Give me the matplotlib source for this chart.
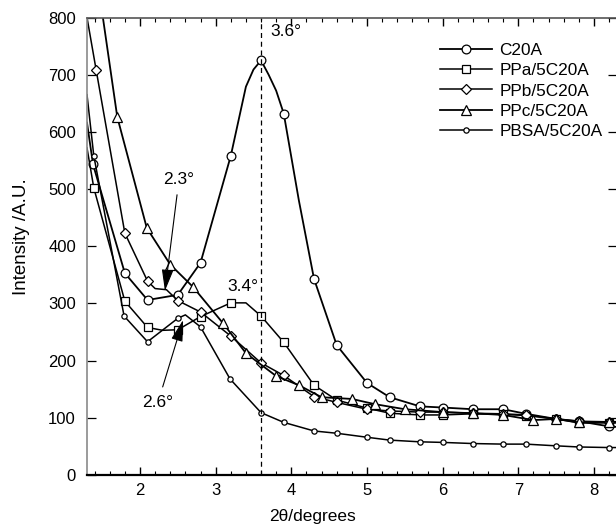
import matplotlib
matplotlib.use("Agg")
import matplotlib.pyplot as plt
from matplotlib.ticker import MultipleLocator

plt.rcParams['font.family'] = ['Liberation Sans', 'DejaVu Sans']

# data (2theta in degrees, intensity in A.U.)
# first/last entries of each series are where the curve meets the frame
c20a_x = [1.3, 1.38, 1.8, 2.1, 2.5, 2.8, 3.2, 3.4, 3.5, 3.6, 3.7, 3.8, 3.9, 4.1, 4.3, 4.6,
          5.0, 5.3, 5.7, 6.0, 6.4, 6.8, 7.1, 7.5, 7.8, 8.2, 8.3]
c20a_y = [616, 543, 353, 306, 315, 371, 558, 679, 709, 725, 700, 672, 632, 480, 343, 227,
          161, 136, 120, 118, 115, 115, 107, 98, 94, 85, 84]
c20a_marks = [1, 2, 3, 4, 5, 6, 9, 12, 14, 15, 16, 17, 18, 19, 20, 21, 22, 23, 24, 25]

ppa_x = [1.3, 1.39, 1.8, 2.1, 2.3, 2.5, 2.8, 3.2, 3.4, 3.6, 3.9, 4.3, 4.6, 5.0,
         5.3, 5.7, 6.0, 6.4, 6.8, 7.1, 7.5, 7.8, 8.2, 8.3]
ppa_y = [572, 502, 304, 258, 253, 254, 277, 301, 301, 278, 232, 157, 131, 117,
         108, 105, 105, 107, 106, 104, 98, 91, 91, 91]
ppa_marks = [1, 2, 3, 5, 6, 7, 9, 10, 11, 12, 13, 14, 15, 16, 17, 18, 19, 20, 21, 22]

ppb_x = [1.3, 1.42, 1.8, 2.1, 2.2, 2.35, 2.5, 2.8, 3.2, 3.6, 3.9, 4.3, 4.6, 5.0,
         5.3, 5.7, 6.0, 6.4, 6.8, 7.1, 7.5, 7.8, 8.2, 8.3]
ppb_y = [800, 709, 423, 339, 326, 324, 305, 285, 243, 196, 174, 137, 127, 115,
         112, 110, 110, 108, 107, 105, 98, 94, 93, 93]
ppb_marks = [1, 2, 3, 6, 7, 8, 9, 10, 11, 12, 13, 14, 15, 16, 17, 18, 19, 20, 21, 22]

ppc_x = [1.51, 1.7, 2.09, 2.4, 2.7, 3.1, 3.4, 3.8, 4.1, 4.4, 4.8, 5.1, 5.5,
         6.0, 6.4, 6.8, 7.2, 7.5, 7.8, 8.2, 8.3]
ppc_y = [800, 626, 432, 368, 329, 265, 213, 173, 157, 136, 133, 124, 115,
         110, 108, 105, 96, 98, 92, 93, 93]
ppc_marks = list(range(1, 20))

pbsa_x = [1.3, 1.39, 1.79, 2.1, 2.5, 2.6, 2.8, 3.19, 3.6, 3.9, 4.3, 4.6, 5.0,
          5.3, 5.7, 6.0, 6.4, 6.8, 7.1, 7.5, 7.8, 8.2, 8.3]
pbsa_y = [665, 558, 278, 233, 274, 280, 259, 168, 109, 92, 77, 73, 66,
          61, 58, 57, 55, 54, 54, 51, 49, 48, 48]
pbsa_marks = [1, 2, 3, 4, 6, 7, 8, 9, 10, 11, 12, 13, 14, 15, 16, 17, 18, 19, 20, 21]

fig = plt.figure(figsize=(6.16, 5.25), dpi=100)
ax = fig.add_axes([87 / 616, 50 / 525, (616.7 - 87) / 616, (475 - 17.5) / 525])

series = [
    (c20a_x, c20a_y, c20a_marks, 'o', 6.3, 1.3, 'C20A'),
    (ppa_x, ppa_y, ppa_marks, 's', 6.3, 1.1, 'PPa/5C20A'),
    (ppb_x, ppb_y, ppb_marks, 'D', 5.0, 1.1, 'PPb/5C20A'),
    (ppc_x, ppc_y, ppc_marks, '^', 6.8, 1.3, 'PPc/5C20A'),
    (pbsa_x, pbsa_y, pbsa_marks, 'o', 3.8, 1.1, 'PBSA/5C20A'),
]
for xs, ys, marks, m, ms, lw, lab in series:
    ax.plot(xs, ys, color='k', lw=lw, marker=m, markersize=ms, markevery=marks,
            markerfacecolor='white', markeredgecolor='k', markeredgewidth=0.9,
            label=lab)

# peak position marker
ax.axvline(3.6, color='k', lw=0.9, ls=(0, (4, 3)))

ax.text(3.72, 775, '3.6°', fontsize=12.5, va='center', ha='left')
ax.text(2.30, 516, '2.3°', fontsize=12.5, va='center', ha='left')
ax.text(3.15, 329, '3.4°', fontsize=12.5, va='center', ha='left')
ax.text(2.03, 126, '2.6°', fontsize=12.5, va='center', ha='left')

arrow = dict(arrowstyle='-|>,head_length=1.1,head_width=0.3', color='k', lw=0.8,
             mutation_scale=12, shrinkA=0, shrinkB=0)
ax.annotate('', xy=(2.33, 322), xytext=(2.49, 490), arrowprops=arrow)
ax.annotate('', xy=(2.57, 271), xytext=(2.30, 154), arrowprops=arrow)

ax.set_xlim(1.3, 8.3)
ax.set_ylim(0, 800)
ax.set_xticks(range(2, 9))
ax.xaxis.set_minor_locator(MultipleLocator(0.2))
ax.set_yticks(range(0, 801, 100))
ax.tick_params(axis='x', which='major', direction='in', top=True, length=6,
               width=1, labelsize=12, pad=5.5)
ax.tick_params(axis='x', which='minor', direction='in', top=True, length=3, width=0.8)
ax.tick_params(axis='y', which='major', direction='in', right=True, length=6.5,
               width=0.9, labelsize=12, pad=8)

ax.spines['bottom'].set_linewidth(1.6)
ax.spines['left'].set_color('#8a8a8a')
ax.spines['left'].set_linewidth(1.2)
ax.spines['top'].set_color('#555555')
ax.spines['top'].set_linewidth(1.2)

ax.set_xlabel('2θ/degrees', fontsize=12.5, labelpad=0)
ax.xaxis.set_label_coords(0.426, -0.075)
ax.set_ylabel('Intensity /A.U.', fontsize=13.5)
ax.yaxis.set_label_coords(-0.108, 0.52)

ax.legend(loc='upper left', bbox_to_anchor=(440 / 616, 1 - 43 / 525),
          bbox_transform=fig.transFigure, frameon=False, fontsize=12.4,
          handlelength=3.0, handletextpad=0.45, labelspacing=0.3,
          borderpad=0, borderaxespad=0)

plt.savefig('out.png', dpi=100)
